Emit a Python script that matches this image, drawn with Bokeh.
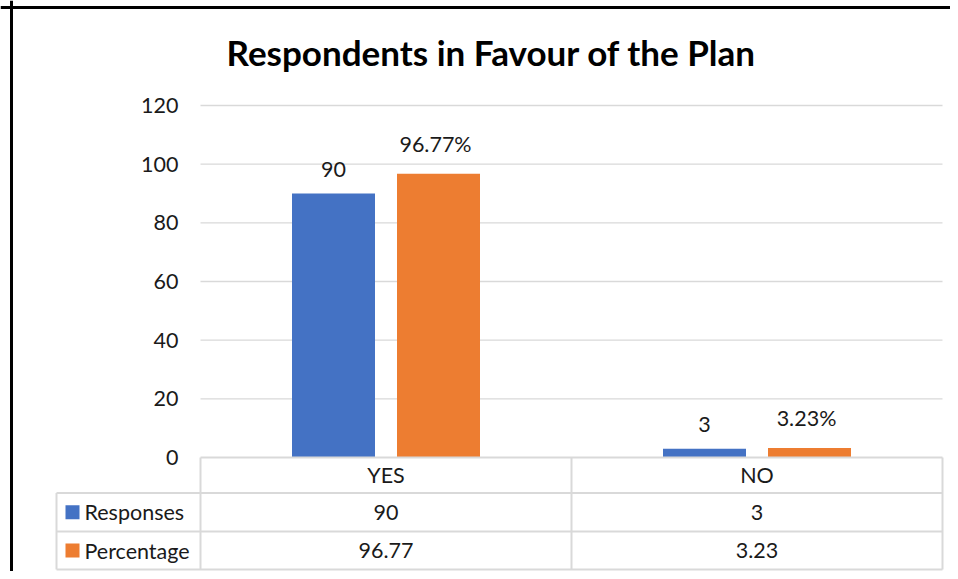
from bokeh.plotting import figure
from bokeh.models import Range1d, LinearAxis, FixedTicker, Span, ColumnDataSource
from bokeh.transform import dodge
from bokeh.core.properties import value
from bokeh.embed import file_html
from bokeh.resources import INLINE

# ---- data ----
categories = ["YES", "NO"]
responses = [90, 3]
percentage = [96.77, 3.23]
response_labels = ["90", "3"]
percentage_labels = ["96.77%", "3.23%"]
table_responses = ["90", "3"]
table_percentage = ["96.77", "3.23"]
y_ticks = [0, 20, 40, 60, 80, 100, 120]
series_names = ["Responses", "Percentage"]
title_text = "Respondents in Favour of the Plan"

BLUE = "#4472C4"
ORANGE = "#ED7D31"
GRID = "#D9D9D9"
TXT = "#1a1a1a"
FONT = "Lato"
FS = "21.5px"

# ---- geometry (pixel -> data mapping) ----
W, H = 950, 571
PX_X = 371.0          # px per category unit
PX_Y = 352.0 / 120.0  # px per value unit
X0_PAGE, Y0_PAGE = 200.0, 457.0   # position of data (0, 0)

def dx(px):
    return (px - X0_PAGE) / PX_X

def dy(py):
    return (Y0_PAGE - py) / PX_Y

x_range = Range1d(dx(0), dx(W))
y_range = Range1d(dy(H), dy(0))

p = figure(width=W, height=H, x_range=x_range, y_range=y_range,
           x_axis_type=None, y_axis_type=None,
           toolbar_location=None, output_backend="svg",
           min_border=0, outline_line_color=None,
           background_fill_color="white", border_fill_color="white")

# y axis at the left edge of the plot area
yaxis = LinearAxis(fixed_location=0, ticker=FixedTicker(ticks=y_ticks),
                   axis_line_color=None, major_tick_line_color=None,
                   minor_tick_line_color=None, major_tick_in=0, major_tick_out=0,
                   major_label_standoff=22,
                   major_label_text_font=FONT, major_label_text_font_size=FS,
                   major_label_text_color=TXT)
p.add_layout(yaxis, "left")

centers = [i + 0.5 for i in range(len(categories))]
src = ColumnDataSource(dict(x=centers, cat=categories, resp=responses, pct=percentage,
                            rl=response_labels, pl=percentage_labels,
                            tr=table_responses, tp=table_percentage))

# gridlines (plot-area width only)
grid_y = [t for t in y_ticks if t > 0]
p.segment(x0=[0] * len(grid_y), x1=[len(categories)] * len(grid_y),
          y0=grid_y, y1=grid_y, line_color=GRID, line_width=1.3)

# bars
off = 52.5 / PX_X
bw = 83.0 / PX_X
p.vbar(x=dodge("x", -off), top="resp", width=bw, source=src, fill_color=BLUE, line_color=None)
p.vbar(x=dodge("x", off), top="pct", width=bw, source=src, fill_color=ORANGE, line_color=None)

# data labels
p.text(x=dodge("x", -off), y="resp", text="rl", source=src, y_offset=-17,
       text_align="center", text_baseline="bottom",
       text_font=value(FONT), text_font_size=FS, text_color=TXT)
p.text(x=dodge("x", off - 3.0 / PX_X), y="pct", text="pl", source=src, y_offset=-17,
       text_align="center", text_baseline="bottom",
       text_font=value(FONT), text_font_size=FS, text_color=TXT)

# ---- data table ----
n = len(categories)
r_top, r1, r2, r_bot = 0, dy(492.5), dy(531), dy(569)
left_t = dx(56)
p.segment(x0=[0, left_t, left_t, left_t], x1=[n, n, n, n],
          y0=[r_top, r1, r2, r_bot], y1=[r_top, r1, r2, r_bot],
          line_color=GRID, line_width=2)
vx = [left_t] + list(range(n + 1))
vy0 = [r1] + [r_top] * (n + 1)
p.segment(x0=vx, x1=vx, y0=vy0, y1=[r_bot] * len(vx), line_color=GRID, line_width=2)

hdr_y = (r_top + r1) / 2
row1_y = (r1 + r2) / 2
row2_y = (r2 + r_bot) / 2
p.text(x="x", y=hdr_y, text="cat", source=src, text_align="center", text_baseline="middle",
       text_font=value(FONT), text_font_size=FS, text_color=TXT)
p.text(x="x", y=row1_y, text="tr", source=src, text_align="center", text_baseline="middle",
       text_font=value(FONT), text_font_size=FS, text_color=TXT)
p.text(x="x", y=row2_y, text="tp", source=src, text_align="center", text_baseline="middle",
       text_font=value(FONT), text_font_size=FS, text_color=TXT)

# legend keys inside table
p.scatter(x=[dx(72)] * 2, y=[row1_y, row2_y], marker="square", size=14,
          fill_color=[BLUE, ORANGE], line_color=None)
p.text(x=[dx(84)] * 2, y=[row1_y, row2_y], text=series_names,
       text_align="left", text_baseline="middle",
       text_font=value(FONT), text_font_size=FS, text_color=TXT)

# title
p.text(x=[dx(491)], y=[dy(51)], text=[title_text], text_align="center", text_baseline="middle",
       text_font=value(FONT), text_font_size="35px", text_font_style="bold", text_color="black")

# chart border (left and top visible)
p.add_layout(Span(location=dx(11), dimension="height", line_color="black", line_width=3))
p.add_layout(Span(location=dy(7), dimension="width", line_color="black", line_width=3))

open("out.html", "w").write(file_html(p, INLINE))
